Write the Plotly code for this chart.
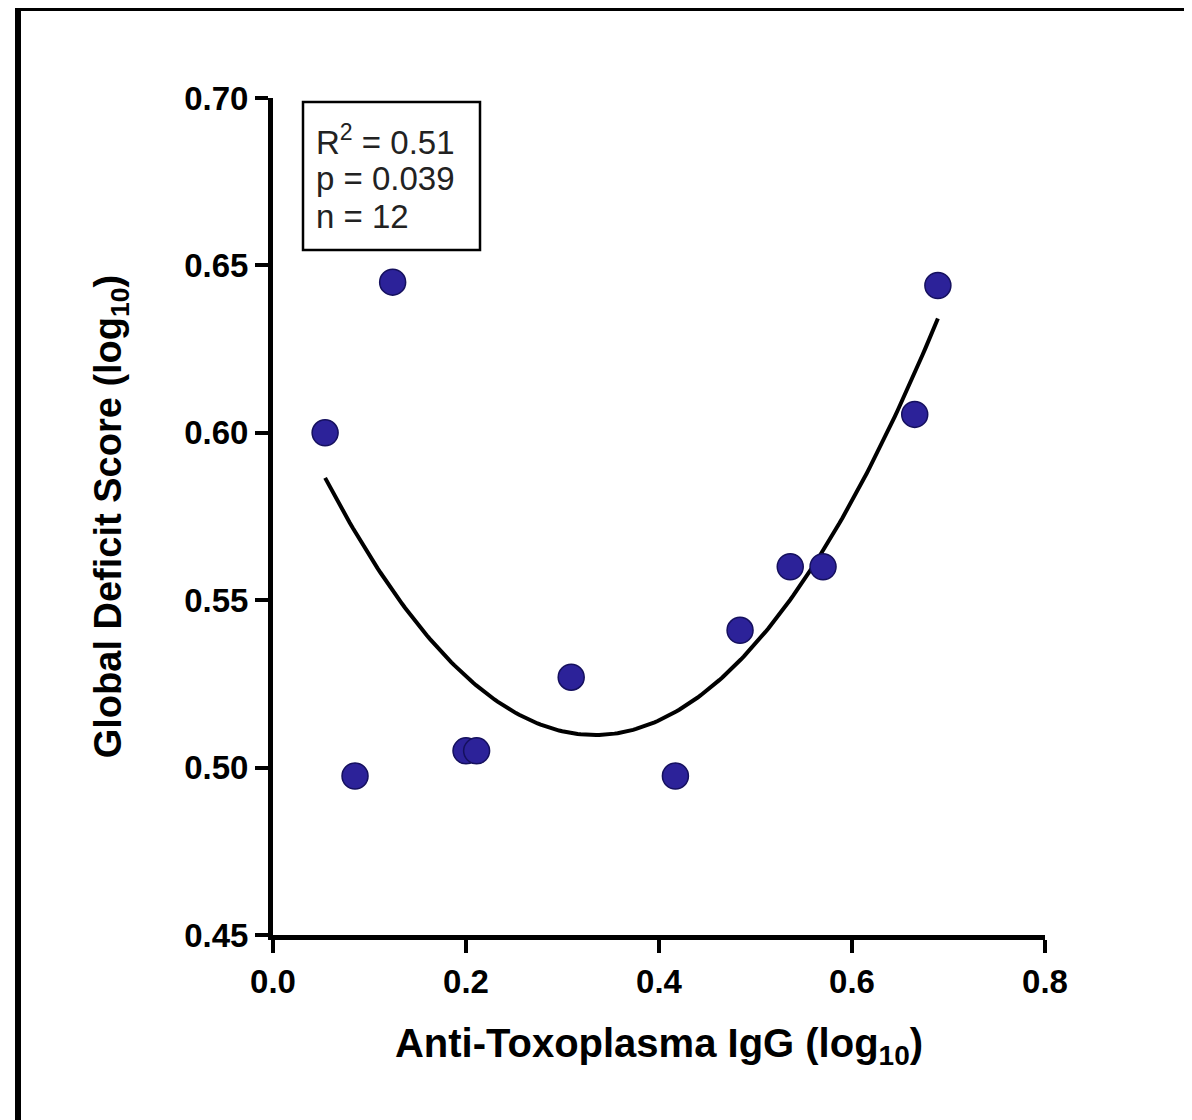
import numpy as np
import plotly.graph_objects as go

# Data
igg = [0.054, 0.124, 0.085, 0.200, 0.211, 0.309, 0.417, 0.484, 0.536, 0.570, 0.665, 0.689]
gds = [0.600, 0.645, 0.4975, 0.505, 0.505, 0.527, 0.4975, 0.541, 0.560, 0.560, 0.6055, 0.644]

x_ticks = [0.0, 0.2, 0.4, 0.6, 0.8]
x_tick_labels = ["0.0", "0.2", "0.4", "0.6", "0.8"]
y_ticks = [0.45, 0.50, 0.55, 0.60, 0.65, 0.70]
y_tick_labels = ["0.45", "0.50", "0.55", "0.60", "0.65", "0.70"]

stats_lines = ["R<sup>2</sup> = 0.51", "p = 0.039", "n = 12"]

# page has an 8px body margin, so the figure is drawn 8px in from the window
W, H = 1184, 1112
ML, MR, MT, MB = 265, 147, 90, 185
PW, PH = W - ML - MR, H - MT - MB


def px(fx):
    return (fx - ML) / PW


def py(fy):
    return 1 - (fy - MT) / PH


# quadratic fit
coef = np.polyfit(igg, gds, 2)
xf = np.linspace(min(igg), max(igg), 200)
yf = np.polyval(coef, xf)

fig = go.Figure()
fig.add_trace(go.Scatter(x=xf, y=yf, mode="lines",
                         line=dict(color="black", width=4),
                         hoverinfo="skip", showlegend=False))
fig.add_trace(go.Scatter(x=igg, y=gds, mode="markers",
                         marker=dict(size=26, color="#2c2299",
                                     line=dict(color="#15105e", width=1.5)),
                         showlegend=False))

F = "Liberation Sans, Arial, sans-serif"

axis_common = dict(showgrid=False, zeroline=False, showline=True,
                   linecolor="black", linewidth=5, ticks="outside",
                   ticklen=13, tickwidth=4, tickcolor="black",
                   tickfont=dict(size=33, family=F, color="black"))

fig.update_layout(
    width=W, height=H,
    margin=dict(l=ML, r=MR, t=MT, b=MB),
    paper_bgcolor="white", plot_bgcolor="white",
    font=dict(family=F, color="black"),
    xaxis=dict(range=[0, 0.8], tickvals=x_ticks,
               ticktext=["<b>%s</b>" % t for t in x_tick_labels],
               title=dict(text="<b>Anti-Toxoplasma IgG (log<sub>10</sub>)</b>",
                          font=dict(size=40, family=F), standoff=32),
               **axis_common),
    yaxis=dict(range=[0.45, 0.70], tickvals=y_ticks,
               ticktext=["<b>%s</b>" % t for t in y_tick_labels],
               title=dict(text="<b>Global Deficit Score (log<sub>10</sub>)</b>",
                          font=dict(size=38, family=F), standoff=52),
               **axis_common),
)

# statistics box
fig.add_shape(type="rect", xref="paper", yref="paper",
              x0=px(295), x1=px(472), y0=py(242), y1=py(94),
              line=dict(color="black", width=2.5), fillcolor="white",
              layer="below")
for i, line in enumerate(stats_lines):
    fig.add_annotation(xref="paper", yref="paper",
                       x=px(306), y=py(132 + 38.5 * i),
                       xanchor="left", yanchor="middle", align="left",
                       text=line, showarrow=False,
                       font=dict(size=33, family=F, color="#222"))

# outer frame (left, top, right edges visible in the reference)
fig.add_shape(type="line", xref="paper", yref="paper",
              x0=px(10), x1=px(10), y0=py(H + 10), y1=py(0),
              line=dict(color="black", width=6))
fig.add_shape(type="line", xref="paper", yref="paper",
              x0=px(7), x1=px(W), y0=py(1.5), y1=py(1.5),
              line=dict(color="black", width=3))
fig.add_shape(type="line", xref="paper", yref="paper",
              x0=px(1181.5), x1=px(1181.5), y0=py(H + 10), y1=py(0),
              line=dict(color="black", width=3))

fig.write_html("out.html")
